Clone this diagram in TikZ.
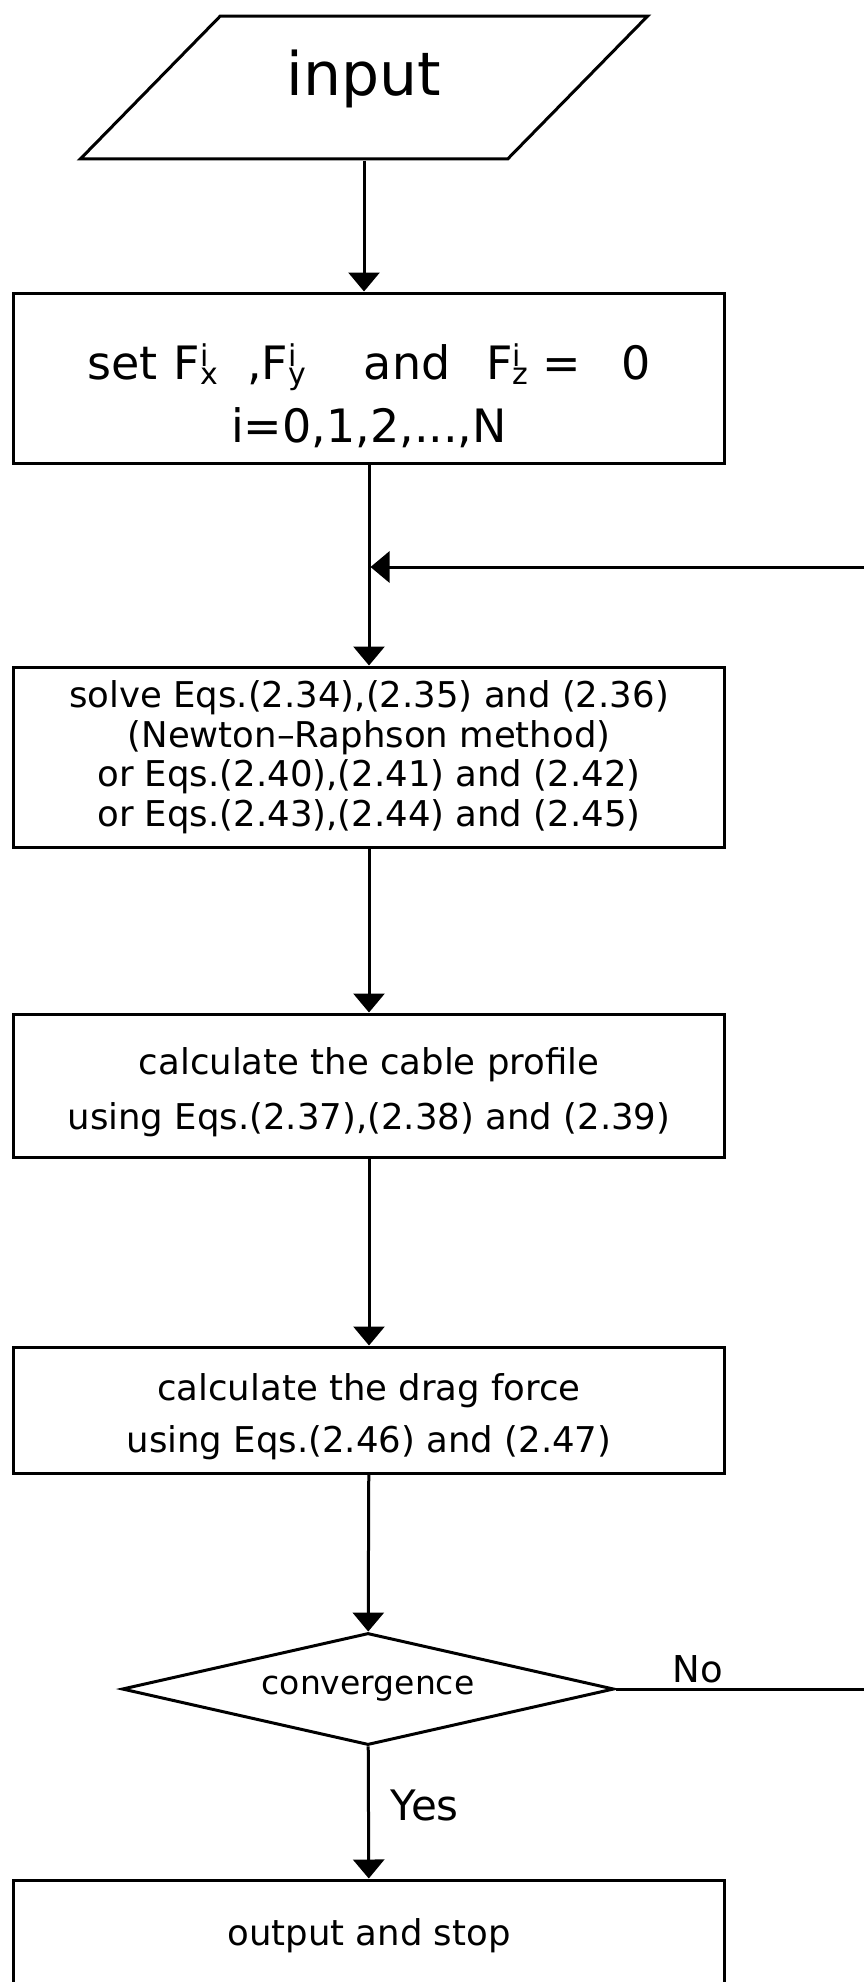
\documentclass[tikz,border=0pt]{standalone}
\usepackage{fontspec}
\setmainfont{DejaVu Sans}
\usetikzlibrary{arrows.meta,shapes.geometric}

\newcommand{\Fsi}[1]{F\rlap{\raisebox{13pt}{\fontsize{30}{30}\selectfont i}}\raisebox{-5pt}{\fontsize{30}{30}\selectfont #1}}

\begin{document}
\begin{tikzpicture}[x=1pt,y=-1pt,line width=3pt,
  every node/.style={inner sep=0pt,align=center},
  box/.style={draw,rectangle,minimum width=711pt},
  flow/.style={-{Triangle[length=19pt,width=31pt]}}]
  \useasboundingbox (0,0) rectangle (864,1982);
  \node[draw,trapezium,trapezium left angle=45.6,trapezium right angle=134.4,
    inner xsep=66.5pt,inner ysep=33.7pt,
    text depth=30pt,font=\fontsize{60}{60}\selectfont] (in) at (364,87.5) {input};
  \node[box,minimum height=170pt,font=\fontsize{46}{63}\selectfont] (set) at (369,378)
    {\rule{0pt}{71pt}set\hspace{16pt}\Fsi{x}\hspace{29pt},\Fsi{y}\hspace{58pt}and\hspace{36pt}\Fsi{z}\hspace{14pt}=\hspace{40pt}0\\i=0,1,2,...,N};
  \node[box,minimum height=180pt,font=\fontsize{35.5}{39.5}\selectfont] (solve) at (369,757)
    {solve Eqs.(2.34),(2.35) and (2.36)\\(Newton--Raphson method)\\or Eqs.(2.40),(2.41) and (2.42)\\or Eqs.(2.43),(2.44) and (2.45)};
  \node[box,minimum height=143pt,font=\fontsize{35.5}{55}\selectfont] (prof) at (369,1085.5)
    {\rule{0pt}{41pt}calculate the cable profile\\using Eqs.(2.37),(2.38) and (2.39)};
  \node[box,minimum height=126pt,font=\fontsize{35.5}{52.5}\selectfont] (drag) at (369,1410)
    {\rule{0pt}{40pt}calculate the drag force\\using Eqs.(2.46) and (2.47)};
  \node[draw,diamond,shape aspect=4.4,minimum width=492pt,minimum height=112pt,
    font=\fontsize{33}{33}\selectfont] (conv) at (368,1689) {convergence};
  \node[box,minimum height=112pt,font=\fontsize{35.5}{40}\selectfont] (out) at (369,1936) {output and stop};
  \coordinate (join) at (370.5,567);
  \coordinate (loop) at (890,1689);
  \draw[flow] (in.south) -- (in.south |- set.north);
  \draw[flow] (set) -- (solve);
  \draw[flow] (solve) -- (prof);
  \draw[flow] (prof) -- (drag);
  \draw[flow] (drag) -- (conv);
  \draw[flow] (conv) -- node[right=21pt,pos=0.45,font=\fontsize{42}{42}\selectfont] {Yes} (out);
  \draw[flow] (conv.east) -- node[above=4pt,pos=0.3,font=\fontsize{37}{37}\selectfont] {No} (loop) |- (join);
\end{tikzpicture}
\end{document}
